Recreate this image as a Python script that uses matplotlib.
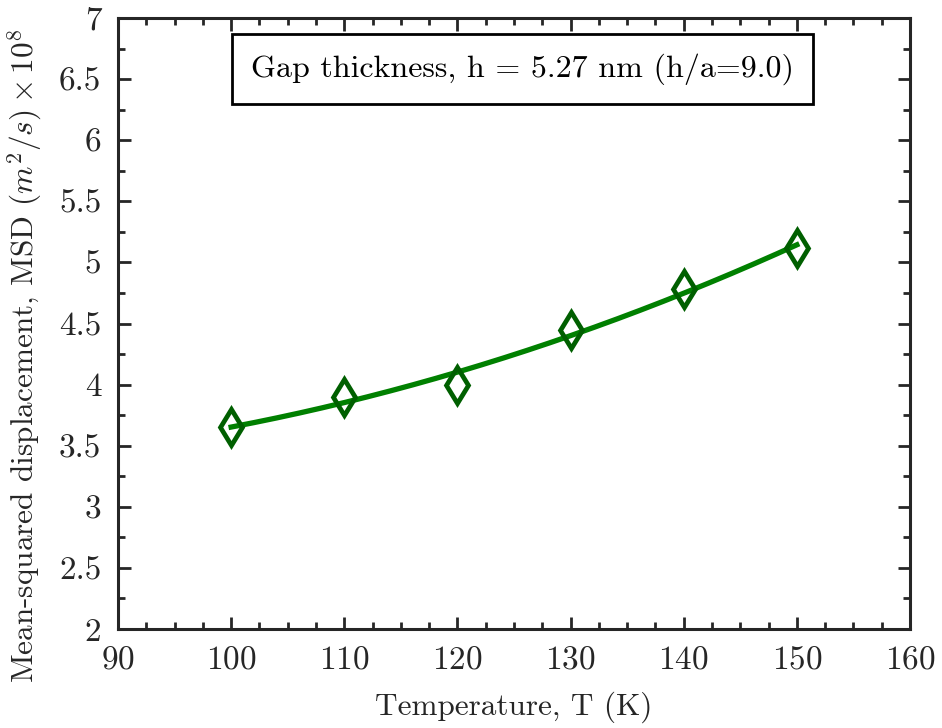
import numpy as np
import matplotlib
matplotlib.use("Agg")
import matplotlib.pyplot as plt
from matplotlib.ticker import MultipleLocator

plt.rcParams['font.family'] = ['cmr10', 'DejaVu Serif']
plt.rcParams['mathtext.fontset'] = 'cm'
plt.rcParams['axes.formatter.use_mathtext'] = True

temperature = [100, 110, 120, 130, 140, 150]
msd = [3.65, 3.90, 4.00, 4.45, 4.78, 5.12]
annotation = "Gap thickness, h = 5.27 nm (h/a=9.0)"

fig = plt.figure(figsize=(9.42, 7.28), dpi=100)
ax = fig.add_axes([118/942, 1-629/728, (910-118)/942, (629-18)/728])

# quadratic least-squares fit of the data
coef = np.polyfit(temperature, msd, 2)
tfit = np.linspace(min(temperature), max(temperature), 200)
ax.plot(tfit, np.polyval(coef, tfit), color='#008000', lw=3.8, zorder=2)
ax.plot(temperature, msd, linestyle='none', marker='d', markersize=18,
        markerfacecolor='none', markeredgecolor='#005f00', markeredgewidth=3.4, zorder=3)

ax.set_xlim(90, 160)
ax.set_ylim(2, 7)
ax.xaxis.set_major_locator(MultipleLocator(10))
ax.xaxis.set_minor_locator(MultipleLocator(2.5))
ax.yaxis.set_major_locator(MultipleLocator(0.5))
ax.yaxis.set_minor_locator(MultipleLocator(0.25))
ax.yaxis.set_major_formatter(plt.FuncFormatter(lambda v, p: f"{v:g}"))
ax.tick_params(which='both', direction='in', top=True, right=True, width=2, colors='#262626')
ax.tick_params(which='major', length=9, labelsize=24, pad=12)
ax.tick_params(which='minor', length=5)
for s in ax.spines.values():
    s.set_linewidth(2.2)
    s.set_color('#262626')

ax.set_xlabel("Temperature, T (K)", fontsize=22.5, color='#262626', labelpad=12)
ax.set_ylabel(r"Mean-squared displacement, MSD $(m^2/s) \times 10^8$", fontsize=22.5, color='#262626')
ax.yaxis.set_label_coords(-0.094, 0.448)

ax.text(0.511, 0.917, annotation, transform=ax.transAxes, ha='center', va='center',
        fontsize=23, color='black',
        bbox=dict(boxstyle='square,pad=0.6', facecolor='white', edgecolor='black', linewidth=2))

fig.savefig("out.png", dpi=100)
